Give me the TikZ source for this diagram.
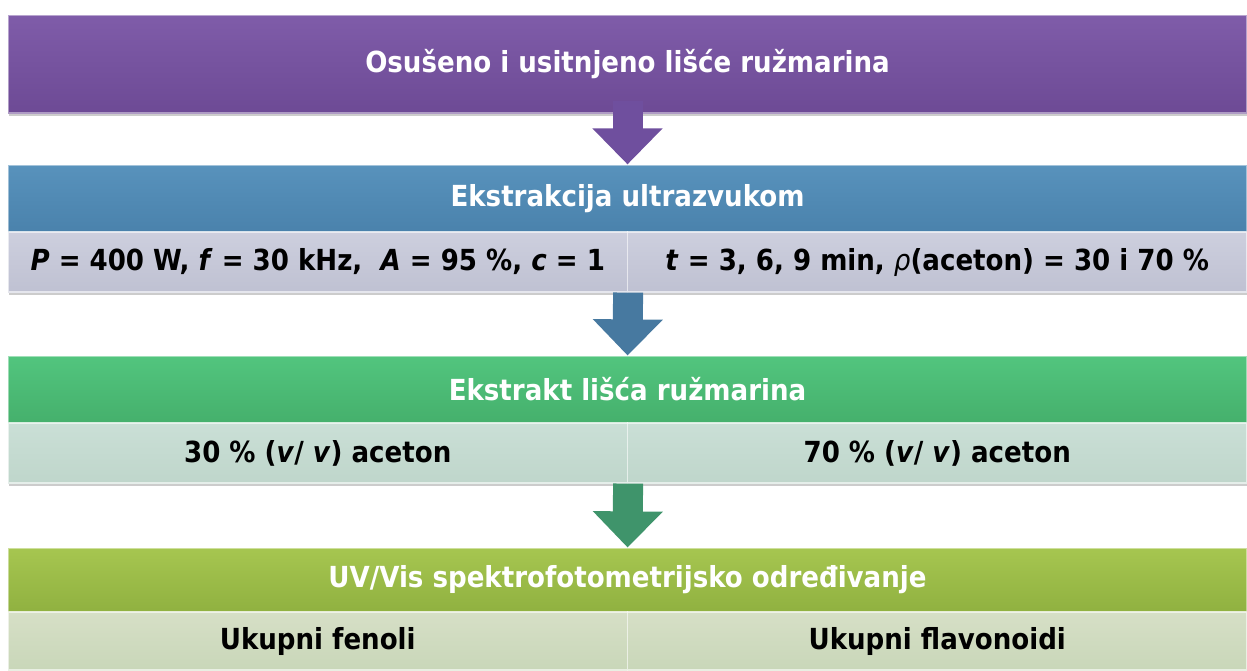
\documentclass[tikz,border=0pt]{standalone}
\usepackage{fontspec}
\setmainfont{DejaVu Sans Condensed}
\usetikzlibrary{arrows.meta,shadows}

\definecolor{lilatop}{HTML}{7F5CA9}
\definecolor{lilabot}{HTML}{6D4A95}
\definecolor{plavtop}{HTML}{5892BC}
\definecolor{plavbot}{HTML}{4A82AC}
\definecolor{zeltop}{HTML}{52C57E}
\definecolor{zelbot}{HTML}{45B06C}
\definecolor{maslintop}{HTML}{A6C650}
\definecolor{maslinbot}{HTML}{90B140}
\definecolor{sivtop}{HTML}{CDCFDE}
\definecolor{sivbot}{HTML}{BFC1D2}
\definecolor{mentatop}{HTML}{CADFD6}
\definecolor{mentabot}{HTML}{BFD6CB}
\definecolor{blijedtop}{HTML}{D6DFC6}
\definecolor{blijedbot}{HTML}{C9D7B9}
\definecolor{strlila}{HTML}{6F4F9E}
\definecolor{strplav}{HTML}{4779A0}
\definecolor{strzel}{HTML}{3F946B}

\begin{document}
\begin{tikzpicture}[x=1pt,y=-1pt,
    stage/.style={rectangle,inner sep=0pt,minimum width=1239pt,text=white,
                  draw=white,draw opacity=0.45,line width=1.2pt,
                  font=\bfseries\fontsize{29}{32}\selectfont,
                  drop shadow={shadow xshift=1pt,shadow yshift=-3pt,opacity=0.4}},
    cell/.style={rectangle,inner sep=0pt,minimum width=619.5pt,text=black,
                 draw=white,draw opacity=0.6,line width=1.2pt,
                 font=\bfseries\fontsize{29}{32}\selectfont,
                 drop shadow={shadow xshift=1pt,shadow yshift=-3pt,opacity=0.4}},
    flow/.style={line width=30pt,-{Triangle[width=68pt,length=36pt]}}]
  \useasboundingbox (0,0) rectangle (1247,670);

  % koraci
  \node[stage,minimum height=98pt,top color=lilatop,bottom color=lilabot] (s1) at (627.5,64)
    {Osušeno i usitnjeno lišće ružmarina};
  \node[stage,minimum height=67pt,top color=plavtop,bottom color=plavbot] (s2) at (627.5,198.5)
    {Ekstrakcija ultrazvukom};
  \node[cell,minimum height=60pt,top color=sivtop,bottom color=sivbot] (p1) at (317.75,262)
    {\textit{P} = 400 W, \textit{f} = 30 kHz,\ \ \textit{A} = 95 \%, \textit{c} = 1};
  \node[cell,minimum height=60pt,top color=sivtop,bottom color=sivbot] (p2) at (937.25,262)
    {\textit{t} = 3, 6, 9 min, {\mdseries\itshape ρ}(aceton) = 30 i 70 \%};
  \node[stage,minimum height=67pt,top color=zeltop,bottom color=zelbot] (s3) at (627.5,389.5)
    {Ekstrakt lišća ružmarina};
  \node[cell,minimum height=60pt,top color=mentatop,bottom color=mentabot] (a1) at (317.75,453)
    {30 \% (\textit{v}/ \textit{v}) aceton};
  \node[cell,minimum height=60pt,top color=mentatop,bottom color=mentabot] (a2) at (937.25,453)
    {70 \% (\textit{v}/ \textit{v}) aceton};
  \node[stage,minimum height=64pt,top color=maslintop,bottom color=maslinbot] (s4) at (627.5,580)
    {UV/Vis spektrofotometrijsko određivanje};
  \node[cell,minimum height=58pt,top color=blijedtop,bottom color=blijedbot] (u1) at (317.75,641)
    {Ukupni fenoli};
  \node[cell,minimum height=58pt,top color=blijedtop,bottom color=blijedbot] (u2) at (937.25,641)
    {Ukupni flavonoidi};

  % strelice
  \draw[flow,strlila] ([yshift=13pt]s1.south) -- (s2.north);
  \draw[flow,strplav] (p1.south east) -- (s3.north);
  \draw[flow,strzel] (a1.south east) -- (s4.north);
\end{tikzpicture}
\end{document}
